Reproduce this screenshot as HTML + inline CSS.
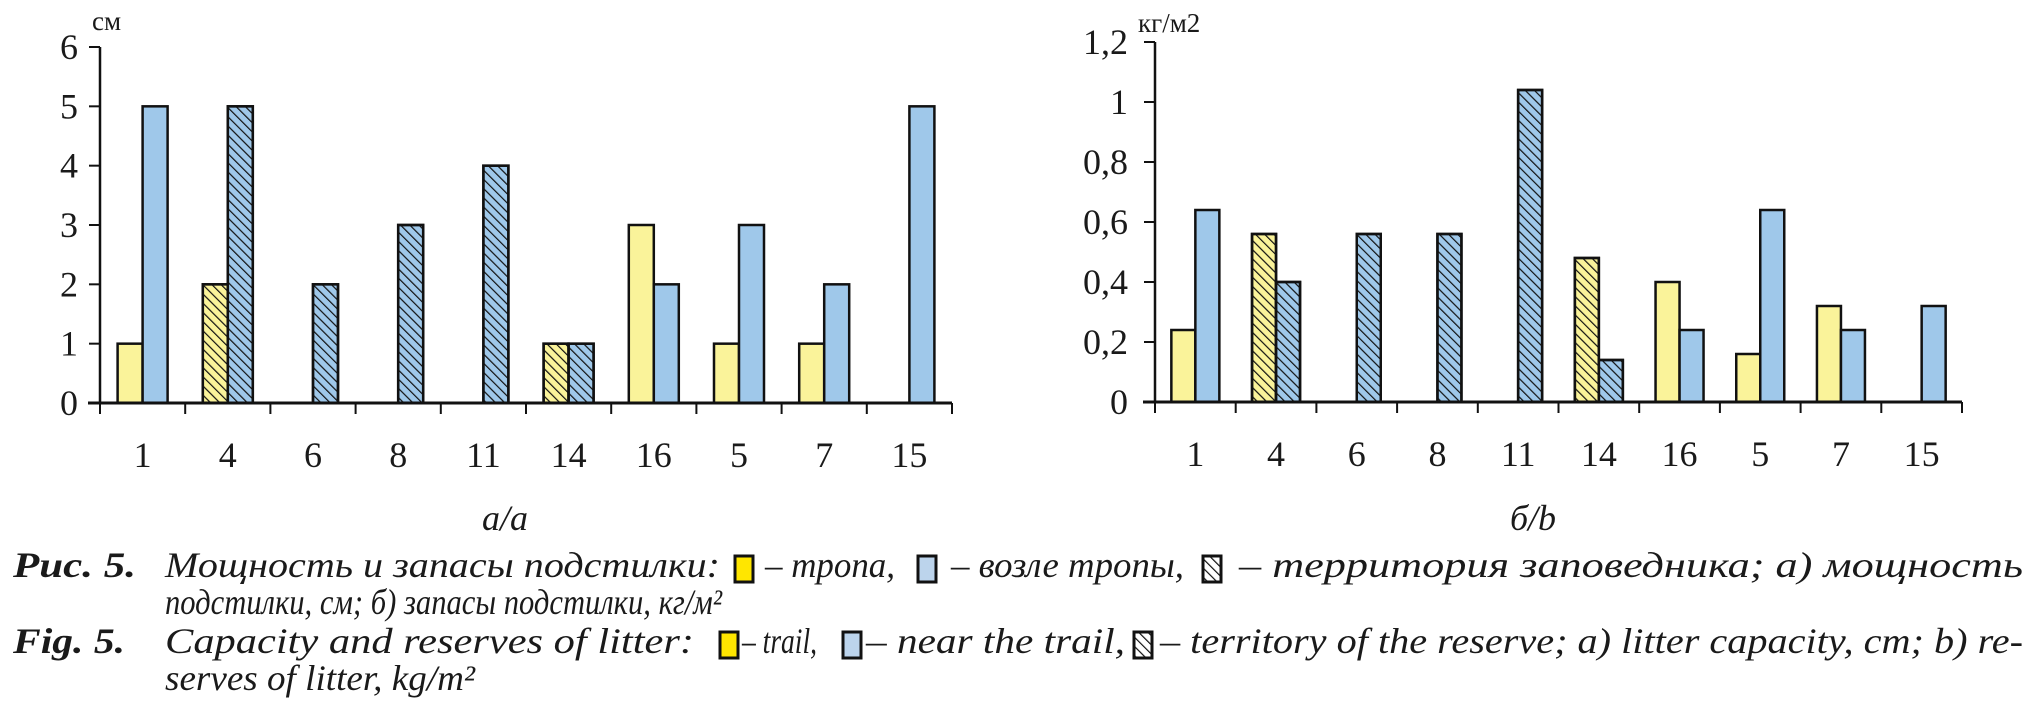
<!DOCTYPE html>
<html><head><meta charset="utf-8"><style>
html,body{margin:0;padding:0;background:#fff;}
svg{display:block;}
.t{font-family:"Liberation Serif",serif;fill:#1a1a1a;}
.c{font-family:"Liberation Serif",serif;font-style:italic;fill:#1a1a1a;font-size:36px;}
</style></head><body>
<svg id="fig" width="2033" height="722" viewBox="0 0 2033 722">
<defs>
<pattern id="hatch" patternUnits="userSpaceOnUse" width="6.5" height="6.5" patternTransform="rotate(-45)">
<line x1="0" y1="0" x2="0" y2="6.5" stroke="#111" stroke-width="2.4"/>
</pattern>
</defs>
<g id="chartA"></g>
<g id="chartB"></g>
<text class="c" x="505" y="530" text-anchor="middle">а/а</text>
<text class="c" x="1533" y="530" text-anchor="middle">б/b</text>
<g>
<text class="c" x="13" y="577" font-weight="bold" textLength="123" lengthAdjust="spacingAndGlyphs">Рис. 5.</text>
<text class="c" x="165" y="577" textLength="555" lengthAdjust="spacingAndGlyphs">Мощность и запасы подстилки:</text>
<rect x="735" y="556" width="18" height="26" fill="#ffe600" stroke="#111" stroke-width="3"/>
<text class="c" x="765" y="577" textLength="130" lengthAdjust="spacingAndGlyphs">– тропа,</text>
<rect x="918" y="556" width="18" height="26" fill="#bcd4ec" stroke="#111" stroke-width="3"/>
<text class="c" x="951" y="577" textLength="233" lengthAdjust="spacingAndGlyphs">– возле тропы,</text>
<rect x="1203" y="556" width="18" height="26" fill="url(#hatch)" stroke="#111" stroke-width="3"/>
<text class="c" x="1239" y="577" textLength="784" lengthAdjust="spacingAndGlyphs">– территория заповедника; а) мощность</text>
<text class="c" x="165" y="614" textLength="557" lengthAdjust="spacingAndGlyphs">подстилки, см; б) запасы подстилки, кг/м²</text>
<text class="c" x="13" y="653" font-weight="bold" textLength="112" lengthAdjust="spacingAndGlyphs">Fig. 5.</text>
<text class="c" x="165" y="653" textLength="529" lengthAdjust="spacingAndGlyphs">Capacity and reserves of litter:</text>
<rect x="720" y="632" width="18" height="26" fill="#ffe600" stroke="#111" stroke-width="3"/>
<text class="c" x="742" y="653" textLength="75" lengthAdjust="spacingAndGlyphs">– trail,</text>
<rect x="843" y="632" width="18" height="26" fill="#bcd4ec" stroke="#111" stroke-width="3"/>
<text class="c" x="866" y="653" textLength="259" lengthAdjust="spacingAndGlyphs">– near the trail,</text>
<rect x="1134" y="632" width="18" height="26" fill="url(#hatch)" stroke="#111" stroke-width="3"/>
<text class="c" x="1160" y="653" textLength="863" lengthAdjust="spacingAndGlyphs">– territory of the reserve; a) litter capacity, cm; b) re-</text>
<text class="c" x="165" y="690" textLength="310" lengthAdjust="spacingAndGlyphs">serves of litter, kg/m²</text>
</g>
</svg>
<script>
const categories = ["1","4","6","8","11","14","16","5","7","15"];
const reserveFlags = [0,1,1,1,1,1,0,0,0,0];
const capacityTrail = [1,2,0,0,0,1,3,1,1,0];
const capacityNear = [5,5,2,3,4,1,2,3,2,5];
const capacityTicks = ["0","1","2","3","4","5","6"];
const capacityTickValues = [0,1,2,3,4,5,6];
const reservesTrail = [0.24,0.56,0,0,0,0.48,0.40,0.16,0.32,0];
const reservesNear = [0.64,0.40,0.56,0.56,1.04,0.14,0.24,0.64,0.24,0.32];
const reservesTicks = ["0","0,2","0,4","0,6","0,8","1","1,2"];
const reservesTickValues = [0,0.2,0.4,0.6,0.8,1.0,1.2];

const NS="http://www.w3.org/2000/svg";
function mk(tag,attrs,parent){const e=document.createElementNS(NS,tag);for(const k in attrs)e.setAttribute(k,attrs[k]);parent.appendChild(e);return e;}

function draw(g,cfg){
  const {x0,x1,y0,y1,max,bw,trail,near,ticks,tickVals,unit,unitX,unitY,labelX,prefix}=cfg;
  const cw=(x1-x0)/categories.length;
  const xs=i=>x0+cw*(i+0.5);
  const ys=v=>y0-(v/max)*(y0-y1);
  for(let i=0;i<categories.length;i++){
    const c=xs(i);
    if(trail[i]>0){
      const r=mk('rect',{x:c-bw,y:ys(trail[i]),width:bw,height:y0-ys(trail[i]),fill:'#faf39a',stroke:'#111','stroke-width':2.5},g);
      
      
      if(reserveFlags[i]) mk('rect',{x:c-bw,y:ys(trail[i]),width:bw,height:y0-ys(trail[i]),fill:'url(#hatch)',stroke:'#111','stroke-width':2.5},g);
    }
    if(near[i]>0){
      const r=mk('rect',{x:c,y:ys(near[i]),width:bw,height:y0-ys(near[i]),fill:'#9fc8ea',stroke:'#111','stroke-width':2.5},g);
      
      
      if(reserveFlags[i]) mk('rect',{x:c,y:ys(near[i]),width:bw,height:y0-ys(near[i]),fill:'url(#hatch)',stroke:'#111','stroke-width':2.5},g);
    }
    const t=mk('text',{x:c,y:y0+64,'text-anchor':'middle','font-size':36,class:'t'},g);
    t.textContent=categories[i];
    
    
  }
  mk('line',{x1:x0,y1:y1,x2:x0,y2:y0,stroke:'#111','stroke-width':2.5},g);
  mk('line',{x1:x0-12,y1:y0,x2:x1,y2:y0,stroke:'#111','stroke-width':3},g);
  for(let i=0;i<=categories.length;i++){
    mk('line',{x1:x0+cw*i,y1:y0,x2:x0+cw*i,y2:y0+11,stroke:'#111','stroke-width':2},g);
  }
  for(let i=0;i<tickVals.length;i++){
    const y=ys(tickVals[i]);
    mk('line',{x1:x0-11,y1:y,x2:x0,y2:y,stroke:'#111','stroke-width':2},g);
    const t=mk('text',{x:labelX,y:y+12,'text-anchor':'end','font-size':36,class:'t'},g);
    t.textContent=ticks[i];
    
    
  }
  const u=mk('text',{x:unitX,y:unitY,'font-size':27,class:'t'},g);
  u.textContent=unit;
  
  
}
draw(document.getElementById('chartA'),{x0:100,x1:952,y0:403,y1:47,max:6,bw:25,trail:capacityTrail,near:capacityNear,ticks:capacityTicks,tickVals:capacityTickValues,unit:'см',unitX:92,unitY:30,labelX:78,prefix:'a'});
draw(document.getElementById('chartB'),{x0:1155,x1:1962,y0:402,y1:42,max:1.2,bw:24,trail:reservesTrail,near:reservesNear,ticks:reservesTicks,tickVals:reservesTickValues,unit:'кг/м2',unitX:1138,unitY:32,labelX:1128,prefix:'b'});
</script>
</body></html>
